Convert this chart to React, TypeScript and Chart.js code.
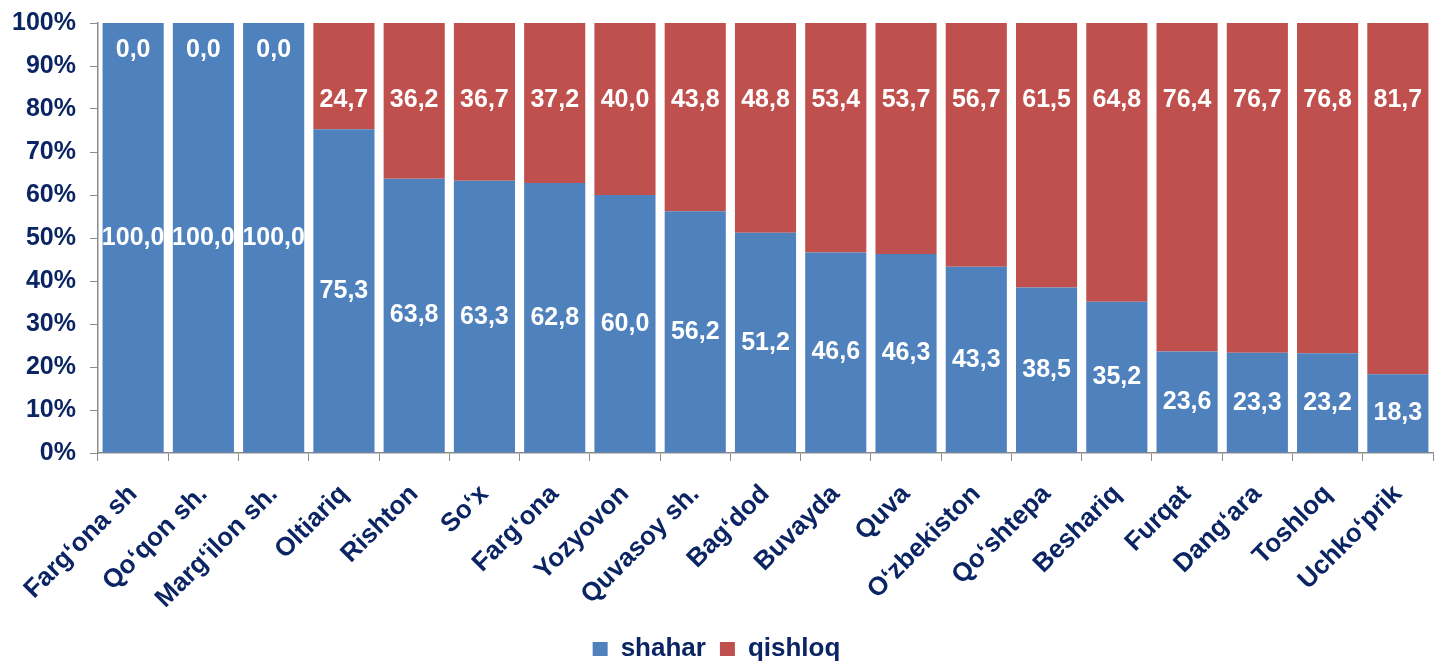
import React, { useEffect, useRef } from "react";
import { Chart, registerables } from "chart.js";

Chart.register(...registerables);

const categories = [
  "Farg‘ona sh", "Qo‘qon sh.", "Marg‘ilon sh.", "Oltiariq", "Rishton", "So‘x", "Farg‘ona",
  "Yozyovon", "Quvasoy sh.", "Bag‘dod", "Buvayda", "Quva", "O‘zbekiston", "Qo‘shtepa",
  "Beshariq", "Furqat", "Dang‘ara", "Toshloq", "Uchko‘prik",
];
const shahar = [100, 100, 100, 75.3, 63.8, 63.3, 62.8, 60.0, 56.2, 51.2, 46.6, 46.3, 43.3, 38.5, 35.2, 23.6, 23.3, 23.2, 18.3];
const qishloq = [0, 0, 0, 24.7, 36.2, 36.7, 37.2, 40.0, 43.8, 48.8, 53.4, 53.7, 56.7, 61.5, 64.8, 76.4, 76.7, 76.8, 81.7];
const yTicks = [0, 10, 20, 30, 40, 50, 60, 70, 80, 90, 100];

const NAVY = "#0b2463";
const BLUE = "#4f81bd";
const RED = "#c0504d";
const AXIS = "#8c8c8c";
const FONT = "'Liberation Sans', Arial, sans-serif";

const labelPlugin = {
  id: "valueLabels",
  afterLayout(chart: any) {
    if (chart.legend) {
      chart.legend.top += 12;
      chart.legend.bottom += 12;
    }
  },
  afterDatasetsDraw(chart: any) {
    const ctx = chart.ctx;
    const yScale = chart.scales.y;
    ctx.save();
    ctx.fillStyle = "#ffffff";
    ctx.font = `bold 25px ${FONT}`;
    ctx.textAlign = "center";
    ctx.textBaseline = "middle";
    chart.data.datasets.forEach((ds: any, di: number) => {
      const meta = chart.getDatasetMeta(di);
      meta.data.forEach((bar: any, i: number) => {
        const v = ds.data[i] as number;
        let y: number;
        if (di === 0) {
          y = (bar.y + bar.base) / 2;
        } else {
          y = v === 0 ? yScale.getPixelForValue(93.7) : yScale.getPixelForValue(82);
        }
        ctx.fillText(v.toFixed(1).replace(".", ","), bar.x, y);
      });
    });
    ctx.restore();
  },
};

export default function App() {
  const ref = useRef<HTMLCanvasElement | null>(null);
  useEffect(() => {
    if (!ref.current) return;
    const chart = new Chart(ref.current, {
      type: "bar",
      data: {
        labels: categories,
        datasets: [
          { label: "shahar", data: shahar, backgroundColor: BLUE, categoryPercentage: 1, barPercentage: 0.87 },
          { label: "qishloq", data: qishloq, backgroundColor: RED, categoryPercentage: 1, barPercentage: 0.87 },
        ],
      },
      options: {
        animation: false,
        responsive: true,
        maintainAspectRatio: false,
        layout: { padding: { top: 23, right: 9, left: 0, bottom: 2 } },
        plugins: {
          tooltip: { enabled: false },
          legend: {
            position: "bottom",
            labels: {
              color: NAVY,
              font: { family: FONT, size: 26, weight: "bold" },
              boxWidth: 15,
              boxHeight: 14,
              padding: 14,
            },
          },
        },
        scales: {
          x: {
            stacked: true,
            grid: { display: true, drawOnChartArea: false, drawTicks: true, tickLength: 8, color: AXIS, offset: true },
            border: { display: true, color: AXIS, width: 1.5 },
            ticks: {
              color: NAVY,
              font: { family: FONT, size: 26, weight: "bold" },
              maxRotation: 45,
              minRotation: 45,
              autoSkip: false,
              padding: 18,
            },
            afterFit: (scale: any) => {
              scale.height = 157;
              scale.paddingLeft = 0;
              scale.paddingRight = 0;
            },
          },
          y: {
            stacked: true,
            min: 0,
            max: 100,
            afterBuildTicks: (scale: any) => {
              scale.ticks = yTicks.map((v) => ({ value: v }));
            },
            grid: { display: true, drawOnChartArea: false, drawTicks: true, tickLength: 8, color: AXIS },
            border: { display: true, color: AXIS, width: 1.5 },
            ticks: {
              color: NAVY,
              font: { family: FONT, size: 25, weight: "bold" },
              padding: 14,
              callback: (v: any) => `${v}%`,
            },
            afterFit: (scale: any) => {
              scale.width = 98;
              scale.paddingTop = 0;
              scale.paddingBottom = 0;
            },
          },
        },
      },
      plugins: [labelPlugin],
    });
    return () => chart.destroy();
  }, []);
  return (
    <div style={{ position: "fixed", left: 0, top: 0, width: 1442, height: 662, background: "#fff" }}>
      <canvas ref={ref} />
    </div>
  );
}
